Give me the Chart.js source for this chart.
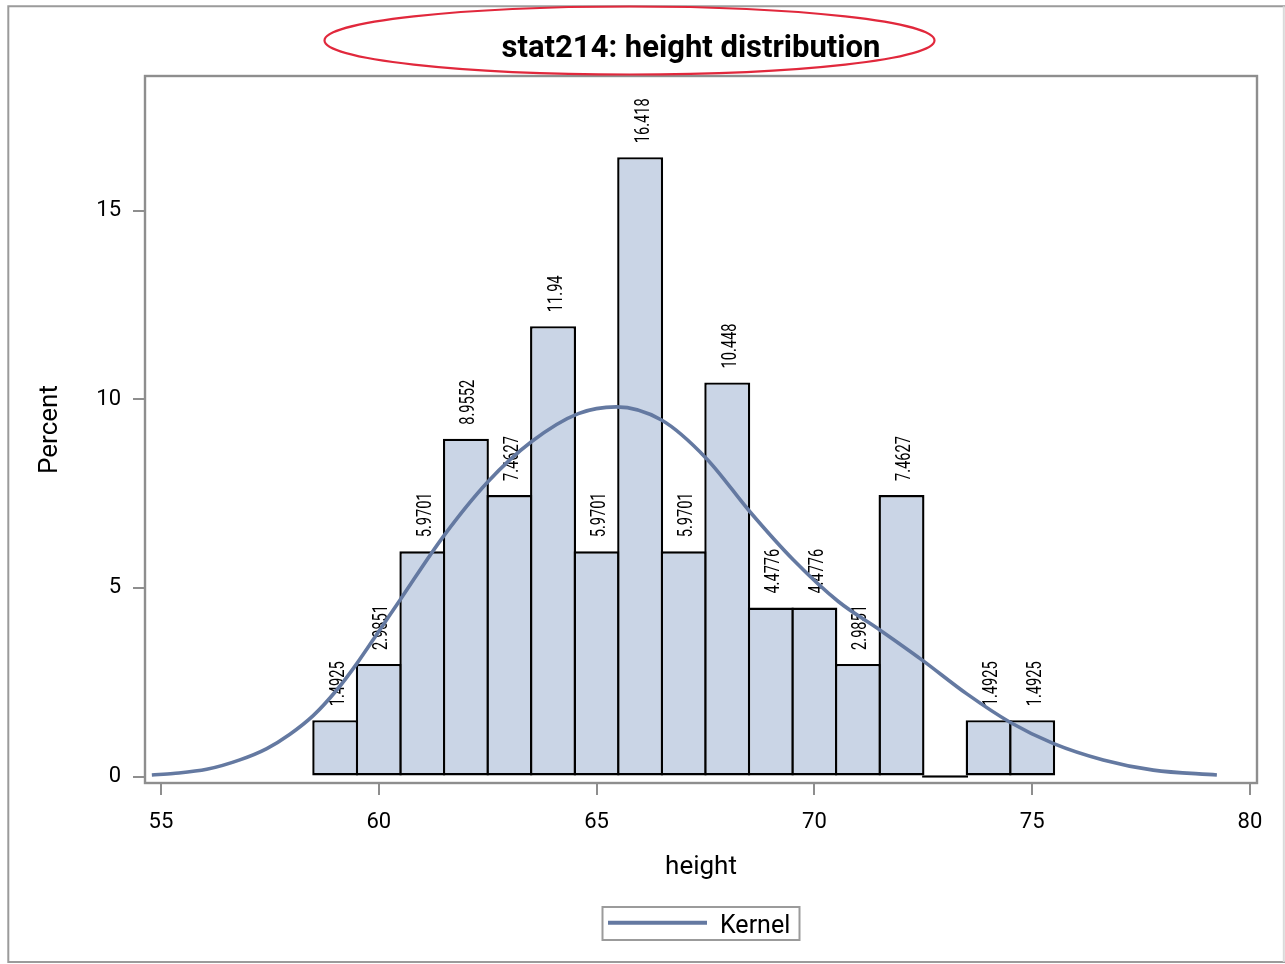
<!DOCTYPE html>
<html>
<head>
<meta charset="utf-8">
<title>stat214: height distribution</title>
<script src="https://cdn.jsdelivr.net/npm/chart.js@4/dist/chart.umd.min.js"></script>
<style>
  html, body { margin: 0; padding: 0; background: #ffffff; }
  #wrap { position: absolute; left: 0; top: 0; width: 1285px; height: 964px; }
  canvas { display: block; }
</style>
</head>
<body>
<div id="wrap"><canvas id="hist" width="1285" height="964"></canvas></div>
<script>
// Histogram bins (midpoints, inches) and the percent of observations in each
const binMidpoints = [59, 60, 61, 62, 63, 64, 65, 66, 67, 68, 69, 70, 71, 72, 73, 74, 75];
const binPercents  = [1.4925, 2.9851, 5.9701, 8.9552, 7.4627, 11.94, 5.9701, 16.418,
                      5.9701, 10.448, 4.4776, 4.4776, 2.9851, 7.4627, 0, 1.4925, 1.4925];

// Kernel density estimate, scaled to percent
const kernelX = [54.79, 55.28, 56.05, 56.81, 57.43, 57.96, 58.50, 59.04, 59.50, 60.03, 60.50,
                 61.48, 62.51, 63.51, 64.58, 65.45, 66.49, 67.53, 68.52, 69.52, 70.55,
                 71.51, 72.46, 73.50, 74.49, 75.48, 76.63, 77.78, 79.24];
const kernelY = [0.04, 0.08, 0.19, 0.44, 0.74, 1.12, 1.62, 2.30, 3.00, 3.90, 4.70,
                 6.36, 7.82, 8.88, 9.62, 9.80, 9.45, 8.42, 7.02, 5.74, 4.64,
                 3.88, 3.10, 2.19, 1.44, 0.88, 0.44, 0.17, 0.04];

// Axis tick values
const xTicks = [55, 60, 65, 70, 75, 80];
const yTicks = [0, 5, 10, 15];

const chartTitle = 'stat214: height distribution';
const FONT = 'Roboto, "Noto Sans", sans-serif';
const BAR_FILL = '#CAD5E6';
const KERNEL_COLOR = '#6479A1';
const FRAME_GRAY = '#8e8e8e';
const BAR_OUTLINE = 2.4;   // outline width; neighbouring bars overlap by this much so edges are shared

const decorations = {
  id: 'decorations',
  beforeDraw(chart) {
    const ctx = chart.ctx;
    ctx.save();
    ctx.fillStyle = '#ffffff';
    ctx.fillRect(0, 0, chart.width, chart.height);
    // outer graph border
    ctx.strokeStyle = '#9b9b9b';
    ctx.lineWidth = 2;
    ctx.beginPath();
    ctx.moveTo(1285, 6.3);
    ctx.lineTo(8.3, 6.3);
    ctx.lineTo(8.3, 962);
    ctx.lineTo(1285, 962);
    ctx.stroke();
    ctx.strokeStyle = '#dadada';
    ctx.beginPath();
    ctx.moveTo(1283.8, 6.3);
    ctx.lineTo(1283.8, 962);
    ctx.stroke();
    ctx.restore();
  },
  beforeDatasetsDraw(chart) {
    // widen bars so adjacent outlines coincide on the bin edge
    const meta = chart.getDatasetMeta(1);
    const xs = chart.scales.x;
    const binPx = xs.getPixelForValue(binMidpoints[1]) - xs.getPixelForValue(binMidpoints[0]);
    meta.data.forEach(el => { el.width = binPx + BAR_OUTLINE; });
  },
  afterDatasetDraw(chart, args) {
    const meta = args.meta;
    if (meta.type !== 'bar') return;
    const ctx = chart.ctx;
    const values = chart.data.datasets[args.index].data;
    ctx.save();
    ctx.fillStyle = '#000000';
    ctx.font = '20px ' + FONT;
    ctx.textAlign = 'left';
    ctx.textBaseline = 'alphabetic';
    meta.data.forEach((el, i) => {
      const v = values[i].y;
      if (!v) return;
      ctx.save();
      ctx.translate(el.x + 8.5, el.y - 14);
      ctx.rotate(-Math.PI / 2);
      ctx.scale(0.73, 1);
      ctx.fillText(String(v), 0, 0);
      ctx.restore();
    });
    ctx.restore();
  },
  afterDraw(chart) {
    const ctx = chart.ctx;
    const a = chart.chartArea;
    ctx.save();
    // plot frame
    ctx.strokeStyle = FRAME_GRAY;
    ctx.lineWidth = 2.4;
    ctx.strokeRect(a.left, a.top, a.right - a.left, a.bottom - a.top);

    // title
    ctx.fillStyle = '#000000';
    ctx.font = 'bold 31px ' + FONT;
    ctx.textAlign = 'center';
    ctx.textBaseline = 'alphabetic';
    ctx.fillText(chartTitle, 691, 56.7);

    // red ellipse around the title
    ctx.strokeStyle = '#E1283C';
    ctx.lineWidth = 2.2;
    ctx.beginPath();
    ctx.ellipse(629.5, 40.5, 305, 34, 0, 0, Math.PI * 2);
    ctx.stroke();

    // legend
    const ds = chart.data.datasets[0];
    ctx.strokeStyle = '#9b9b9b';
    ctx.lineWidth = 2;
    ctx.strokeRect(602.5, 907, 197, 33);
    ctx.strokeStyle = ds.borderColor;
    ctx.lineWidth = 4;
    ctx.beginPath();
    ctx.moveTo(608, 922.7);
    ctx.lineTo(707, 922.7);
    ctx.stroke();
    ctx.fillStyle = '#000000';
    ctx.font = '25px ' + FONT;
    ctx.textAlign = 'left';
    ctx.fillText(ds.label, 720, 933);
    ctx.restore();
  }
};

const ctx = document.getElementById('hist').getContext('2d');
new Chart(ctx, {
  type: 'bar',
  data: {
    datasets: [
      {
        type: 'line',
        label: 'Kernel',
        data: kernelX.map((x, i) => ({ x: x, y: kernelY[i] })),
        borderColor: KERNEL_COLOR,
        borderWidth: 3.6,
        pointRadius: 0,
        fill: false,
        cubicInterpolationMode: 'monotone',
        order: 0
      },
      {
        type: 'bar',
        label: 'Percent',
        data: binMidpoints.map((x, i) => ({ x: x, y: binPercents[i] })),
        backgroundColor: BAR_FILL,
        borderColor: '#000000',
        borderWidth: BAR_OUTLINE,
        borderSkipped: false,
        inflateAmount: 0,
        barPercentage: 1,
        categoryPercentage: 1,
        minBarLength: BAR_OUTLINE,
        order: 1
      }
    ]
  },
  options: {
    responsive: false,
    animation: false,
    devicePixelRatio: 1,
    layout: { padding: { left: 0, top: 76, right: 28, bottom: 0 } },
    plugins: {
      legend: { display: false },
      title: { display: false },
      tooltip: { enabled: false }
    },
    scales: {
      x: {
        type: 'linear',
        position: 'bottom',
        min: 54.633,
        max: 80.161,
        offset: false,
        afterFit(scale) { scale.height = 181; },
        afterBuildTicks(scale) { scale.ticks = xTicks.map(v => ({ value: v })); },
        grid: { offset: false, drawOnChartArea: false, drawTicks: true, tickLength: 12, color: FRAME_GRAY, lineWidth: 2 },
        border: { display: false },
        ticks: { padding: 14, color: '#000000', font: { family: FONT, size: 22 }, maxRotation: 0, autoSkip: false },
        title: { display: true, text: 'height', color: '#000000', font: { family: FONT, size: 26 }, padding: { top: 0, bottom: 81 } }
      },
      y: {
        type: 'linear',
        position: 'left',
        min: -0.172,
        max: 18.571,
        afterFit(scale) { scale.width = 145; },
        afterBuildTicks(scale) { scale.ticks = yTicks.map(v => ({ value: v })); },
        grid: { drawOnChartArea: false, drawTicks: true, tickLength: 12, color: FRAME_GRAY, lineWidth: 2 },
        border: { display: false },
        ticks: { padding: 12, color: '#000000', font: { family: FONT, size: 22 } },
        title: { display: true, text: 'Percent', color: '#000000', font: { family: FONT, size: 26 }, padding: { top: 34.8, bottom: 0 } }
      }
    }
  },
  plugins: [decorations]
});
</script>
</body>
</html>
